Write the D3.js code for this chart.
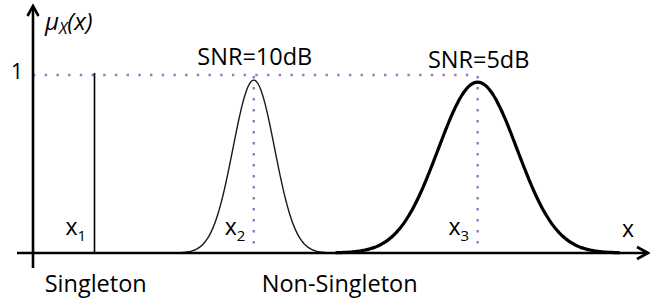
<!DOCTYPE html>
<html>
<head>
<meta charset="utf-8">
<script src="https://cdn.jsdelivr.net/npm/d3@7"></script>
<style>
  body { margin: 0; background: #fff; }
  svg { display: block; font-family: "Open Sans", sans-serif; }
</style>
</head>
<body>
<div id="chart"></div>
<script>
// membership functions
const pointNames = ["x", "x", "x"];
const pointSubs = ["1", "2", "3"];
const pointCenters = [1.0, 3.59, 7.23];
const gaussCenters = [3.59, 7.23];
const gaussSpreads = [0.338, 0.642];
const gaussPeaks = [0.966, 0.955];
const snrLabels = ["SNR=10dB", "SNR=5dB"];
const groupLabels = ["Singleton", "Non-Singleton"];
const groupPositions = [0.19, 3.72];

const width = 650, height = 303;
const dotColor = "#9479c6";

const svg = d3.select("#chart").append("svg")
  .attr("width", width)
  .attr("height", height);

const x = d3.scaleLinear().domain([0, 10]).range([33, 648]);
const y = d3.scaleLinear().domain([0, 1]).range([253, 74]);

// dotted guide lines
svg.append("line")
  .attr("x1", x(0)).attr("x2", x(gaussCenters[1]))
  .attr("y1", y(1) + 1).attr("y2", y(1) + 1)
  .style("stroke", dotColor)
  .style("stroke-width", 2.4)
  .style("stroke-dasharray", "2.4 9.3");

gaussCenters.forEach((c) => {
  svg.append("line")
    .attr("x1", x(c)).attr("x2", x(c))
    .attr("y1", y(1) + 2).attr("y2", y(0))
    .style("stroke", dotColor)
    .style("stroke-width", 2.4)
    .style("stroke-dasharray", "2.4 8.6");
});

// singleton spike
svg.append("line")
  .attr("x1", x(pointCenters[0])).attr("x2", x(pointCenters[0]))
  .attr("y1", y(1) - 1).attr("y2", y(0))
  .style("stroke", "#000")
  .style("stroke-width", 1.6);

// gaussian membership curves
const line = d3.line()
  .x(d => x(d[0]))
  .y(d => y(d[1]))
  .curve(d3.curveBasis);

gaussCenters.forEach((c, i) => {
  const s = gaussSpreads[i];
  const pts = d3.range(-3.6, 3.6001, 0.05).map(t => [c + t * s, gaussPeaks[i] * Math.exp(-t * t / 2)]);
  svg.append("path")
    .datum(pts)
    .attr("d", line)
    .style("fill", "none")
    .style("stroke", i === 0 ? "#1a1a1a" : "#000")
    .style("stroke-width", i === 0 ? 1.4 : 3.2);
});

// axes
const axisG = svg.append("g")
  .style("stroke", "#000")
  .style("fill", "none")
  .style("stroke-width", 2.6);
axisG.append("line")
  .attr("x1", x(0)).attr("x2", x(0))
  .attr("y1", 268).attr("y2", 6);
axisG.append("path")
  .attr("d", `M${x(0) - 5.5},16 L${x(0)},6 L${x(0) + 5.5},16`)
  .style("stroke-linejoin", "miter");
axisG.append("line")
  .attr("x1", 17).attr("x2", x(10))
  .attr("y1", y(0)).attr("y2", y(0));
axisG.append("path")
  .attr("d", `M${x(10) - 11},${y(0) - 6} L${x(10)},${y(0)} L${x(10) - 11},${y(0) + 6}`)
  .style("stroke-linejoin", "miter");

// axis labels
const mu = svg.append("text")
  .attr("x", 45).attr("y", 30)
  .style("font-style", "italic")
  .style("font-size", "24px")
  .style("fill", "#000");
mu.append("tspan").text("μ");
mu.append("tspan").attr("dy", 4).style("font-size", "16px").text("X");
mu.append("tspan").attr("dy", -4).text("(x)");

svg.append("text")
  .attr("x", 23).attr("y", 79)
  .attr("text-anchor", "end")
  .style("font-size", "21px")
  .text("1");

svg.append("text")
  .attr("x", 622).attr("y", 237)
  .style("font-size", "23px")
  .text("x");

// point labels
pointCenters.forEach((c, i) => {
  const t = svg.append("text")
    .attr("x", x(c) - 8.5).attr("y", 235)
    .attr("text-anchor", "end")
    .style("font-size", "23px");
  t.append("tspan").text(pointNames[i]);
  t.append("tspan").attr("dy", 6).style("font-size", "15px").text(pointSubs[i]);
});

// SNR labels
gaussCenters.forEach((c, i) => {
  svg.append("text")
    .attr("x", x(c) + 1).attr("y", i === 0 ? 65 : 68)
    .attr("text-anchor", "middle")
    .style("font-size", "23.5px")
    .text(snrLabels[i]);
});

// group labels
groupLabels.forEach((g, i) => {
  svg.append("text")
    .attr("x", x(groupPositions[i])).attr("y", 292)
    .style("font-size", "23.5px")
    .text(g);
});
</script>
</body>
</html>
